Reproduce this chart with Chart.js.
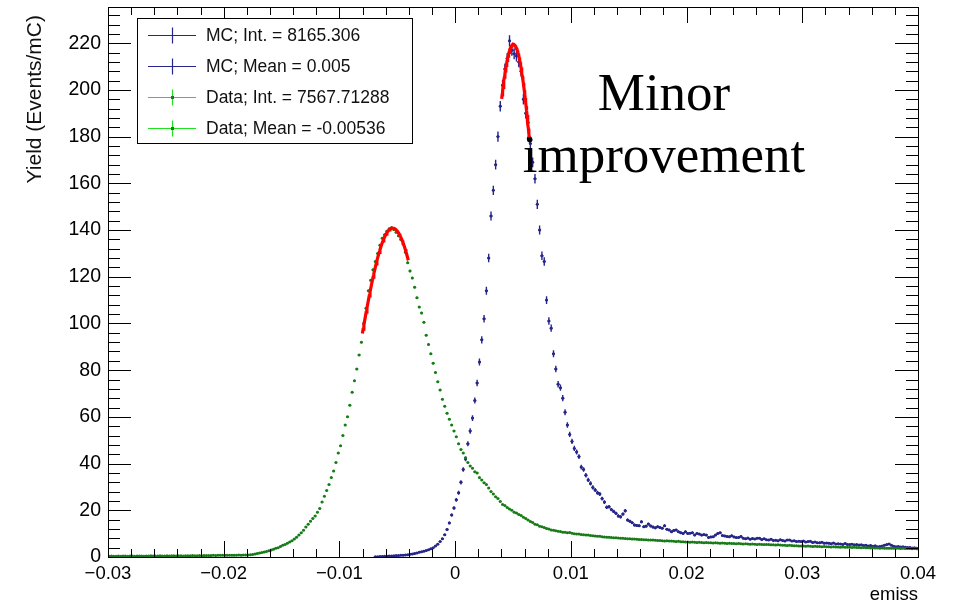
<!DOCTYPE html>
<html>
<head>
<meta charset="utf-8">
<script src="https://cdn.jsdelivr.net/npm/chart.js@4.4.0/dist/chart.umd.min.js"></script>
<style>
  html, body { margin: 0; padding: 0; background: #fff; }
</style>
</head>
<body>
<canvas id="c" width="953" height="604"></canvas>
<script>
// histogram binning: 350 bins of 0.0002 from -0.03 to 0.04
const binLow = -0.03;
const binWidth = 0.0002;

// MC yield per bin (Events/mC)
const mcYield = [
  0,0,0,0,0,0,0,0,0,0,
  0,0,0,0,0,0,0,0,0,0,
  0,0,0,0,0,0,0,0,0,0,
  0,0,0,0,0,0,0,0,0,0,
  0,0,0,0,0,0,0,0,0,0,
  0,0,0,0,0,0,0,0,0,0,
  0,0,0,0,0,0,0,0,0,0,
  0,0,0,0,0,0,0,0,0,0,
  0,0,0,0,0,0,0,0,0,0,
  0,0,0,0,0,0,0,0,0,0,
  0,0,0,0,0,0,0,0,0,0,
  0,0,0,0,0,0.1,0.1,0.2,0.2,0.3,
  0.3,0.4,0.4,0.5,0.6,0.6,0.7,0.8,0.9,1.0,
  1.2,1.3,1.5,1.7,2.0,2.2,2.5,2.8,3.1,3.5,
  4.0,4.7,5.5,6.6,7.8,9.5,11.8,14.6,18.0,21.0,
  24.5,27.5,32.0,37.5,42.0,48.5,54.0,59.5,67.0,74.5,
  83.5,93.0,102.0,114.0,128.0,146.0,157.0,168.0,180.0,193.0,
  202.0,209.0,213.5,221.0,217.0,215.5,214.5,212.0,208.0,196.0,
  190.0,186.0,177.0,169.0,162.0,151.0,140.0,129.0,126.5,110.0,
  101.0,98.0,87.0,80.5,74.0,72.5,68.0,62.0,56.5,52.5,
  49.5,46.5,45.0,43.0,38.5,37.5,35.0,33.0,31.5,29.8,
  28.7,27.5,27.0,25.0,23.5,21.3,21.5,20.3,19.5,18.7,
  17.6,17.2,18.4,19.8,15.8,15.3,14.7,13.7,13.5,13.4,
  15.1,13.0,13.2,14.1,13.3,12.8,12.5,13.0,12.6,12.3,
  13.4,11.9,11.6,10.8,11.4,11.6,10.8,10.4,10.1,10.8,
  10.1,10.2,10.4,9.4,10.1,9.8,9.4,9.6,9.4,8.4,
  8.6,8.7,9.4,10.1,10.4,9.2,9.0,8.8,8.7,9.1,
  8.6,8.3,8.4,8.8,8.0,7.8,8.1,7.6,7.9,7.7,
  8.0,8.0,7.5,7.8,7.4,7.3,7.6,7.1,7.2,7.0,
  7.4,7.1,6.9,7.3,7.3,6.8,7.0,6.6,6.7,6.6,
  6.9,6.4,6.6,6.7,6.2,6.4,6.1,6.1,6.3,5.9,
  6.0,5.9,5.7,6.0,5.6,5.7,5.6,5.4,5.8,5.3,
  5.4,5.5,5.2,5.3,5.1,5.2,4.9,5.0,4.7,4.9,
  4.6,4.8,4.4,4.5,4.7,5.0,5.3,5.6,5.0,4.6,
  4.4,4.5,4.3,4.4,4.2,4.1,4.1,3.9,4.0,3.7
];

// Data yield per bin (Events/mC)
const dataYield = [
  0.3,0.4,0.3,0.3,0.4,0.3,0.4,0.4,0.3,0.4,
  0.4,0.3,0.4,0.4,0.4,0.3,0.4,0.4,0.5,0.4,
  0.4,0.4,0.5,0.4,0.4,0.5,0.4,0.5,0.5,0.4,
  0.5,0.5,0.4,0.5,0.5,0.5,0.6,0.5,0.5,0.6,
  0.5,0.6,0.6,0.6,0.6,0.7,0.6,0.7,0.7,0.7,
  0.7,0.8,0.7,0.8,0.8,0.8,0.9,0.8,0.9,0.9,
  0.9,1.0,1.1,1.3,1.5,1.7,1.9,2.1,2.4,2.7,
  3.0,3.3,3.7,4.0,4.5,5.0,5.4,5.9,6.4,7.0,
  7.7,8.5,9.4,10.4,11.5,12.8,14.0,15.3,16.5,17.6,
  19.2,20.8,23.5,26.0,28.5,31.0,34.0,36.8,40.5,44.5,
  47.6,52.0,56.5,60.0,65.0,70.5,75.5,80.5,86.5,92.0,
  100.0,106.5,114.0,118.5,123.0,126.5,130.0,133.5,136.5,138.0,
  139.5,140.5,141.0,140.2,139.0,137.5,136.0,134.0,130.5,126.0,
  122.5,119.5,115.5,111.0,107.0,104.5,100.5,95.0,91.0,87.0,
  83.0,79.0,75.0,71.5,67.5,64.5,61.5,59.0,56.5,54.0,
  51.5,48.5,46.0,44.5,42.5,40.5,39.0,38.0,36.5,36.0,
  34.0,33.0,31.8,31.0,29.5,28.0,27.0,25.8,25.0,23.8,
  22.5,22.0,21.2,20.5,20.0,19.2,18.8,18.2,17.8,17.0,
  16.5,15.8,15.2,14.8,14.0,13.8,13.2,13.0,12.6,12.2,
  12.0,11.6,11.5,11.2,11.0,10.9,10.6,10.6,10.4,10.5,
  10.2,10.0,9.9,9.8,9.6,9.5,9.4,9.4,9.2,9.1,
  9.0,8.9,8.9,8.7,8.6,8.5,8.5,8.3,8.2,8.2,
  8.1,8.0,8.0,7.9,7.8,7.8,7.7,7.7,7.6,7.5,
  7.5,7.4,7.4,7.3,7.3,7.3,7.2,7.1,7.1,7.0,
  6.9,7.0,6.8,6.8,6.7,6.6,6.7,6.5,6.5,6.4,
  6.4,6.3,6.4,6.3,6.2,6.3,6.2,6.1,6.2,6.1,
  6.1,6.0,6.1,6.0,5.9,6.0,5.9,5.8,5.9,5.8,
  5.8,5.7,5.8,5.7,5.6,5.7,5.6,5.5,5.6,5.5,
  5.4,5.5,5.4,5.3,5.4,5.3,5.2,5.2,5.1,5.2,
  5.1,5.0,5.0,4.9,5.0,4.9,4.8,4.8,4.7,4.7,
  4.7,4.6,4.7,4.6,4.5,4.6,4.5,4.5,4.4,4.5,
  4.4,4.4,4.3,4.4,4.3,4.3,4.2,4.3,4.2,4.2,
  4.2,4.1,4.2,4.1,4.1,4.0,4.1,4.0,4.0,3.9,
  4.0,3.9,3.9,3.8,3.9,3.8,3.8,3.8,3.7,3.8,
  3.7,3.7,3.6,3.7,3.6,3.6,3.6,3.5,3.6,3.5
];

// gaussian fits around the peaks: [amplitude, mean, sigma, range from, range to]
const mcFit = [219.5, 0.00504, 0.00215, 0.00402, 0.00641];
const dataFit = [140.8, -0.0054, 0.00298, -0.00802, -0.00405];

const xTicks = [-0.03, -0.02, -0.01, 0, 0.01, 0.02, 0.03, 0.04];
const yTicks = [0, 20, 40, 60, 80, 100, 120, 140, 160, 180, 200, 220];
const legendLabels = ['MC; Int. = 8165.306', 'MC; Mean = 0.005', 'Data; Int. = 7567.71288', 'Data; Mean = -0.00536'];
const yTitle = 'Yield (Events/mC)';
const noteLines = ['Minor', 'improvement'];

const MC_COLOR = '#26268a';
const DATA_BAR = '#22e022';
const DATA_DOT = '#1a7a1a';

function toPoints(arr) {
  const pts = [];
  arr.forEach(function (v, i) {
    if (v > 0) pts.push({ x: binLow + binWidth * (i + 0.5), y: v });
  });
  return pts;
}

function fitPoints(f) {
  const pts = [];
  for (let k = 0; k <= 60; k++) {
    const x = f[3] + (f[4] - f[3]) * k / 60;
    const z = (x - f[1]) / f[2];
    pts.push({ x: x, y: f[0] * Math.exp(-0.5 * z * z) });
  }
  return pts;
}

const mcFitPts = fitPoints(mcFit);
const dataFitPts = fitPoints(dataFit);

Chart.defaults.font.family = '"Liberation Sans", Arial, sans-serif';
Chart.defaults.color = '#000';

// error bars (drawn under the markers)
const errorBars = {
  id: 'errorBars',
  beforeDatasetsDraw(chart) {
    const { ctx, chartArea: a, scales: { x, y } } = chart;
    ctx.save();
    ctx.beginPath();
    ctx.rect(a.left, a.top, a.right - a.left, a.bottom - a.top);
    ctx.clip();
    chart.data.datasets.forEach(function (ds) {
      if (!ds.errScale) return;
      ctx.strokeStyle = ds.barColor;
      ctx.lineWidth = ds.barWidth;
      ctx.beginPath();
      ds.data.forEach(function (p) {
        const e = ds.errScale * Math.sqrt(p.y);
        const px = x.getPixelForValue(p.x);
        const x0 = x.getPixelForValue(p.x - binWidth / 2);
        const x1 = x.getPixelForValue(p.x + binWidth / 2);
        const py = y.getPixelForValue(p.y);
        ctx.moveTo(px, y.getPixelForValue(p.y - e));
        ctx.lineTo(px, y.getPixelForValue(p.y + e));
        ctx.moveTo(x0 - 0.3, py);
        ctx.lineTo(x1 + 0.3, py);
      });
      ctx.stroke();
    });
    ctx.restore();
  }
};

// ROOT style frame with ticks on all four sides
const frameTicks = {
  id: 'frameTicks',
  afterDatasetsDraw(chart) {
    const { ctx, chartArea: a, scales: { x, y } } = chart;
    ctx.save();
    ctx.strokeStyle = '#000';
    ctx.lineWidth = 1;
    ctx.strokeRect(Math.round(a.left) + 0.5, Math.round(a.top) + 0.5,
      Math.round(a.right - a.left), Math.round(a.bottom - a.top));
    ctx.beginPath();
    for (let k = 0; k * 4 <= y.max; k++) {
      const p = Math.round(y.getPixelForValue(k * 4)) + 0.5;
      const len = k % 5 === 0 ? 23 : 12;
      ctx.moveTo(a.left, p); ctx.lineTo(a.left + len, p);
      ctx.moveTo(a.right, p); ctx.lineTo(a.right - len, p);
    }
    for (let k = 0; k <= 35; k++) {
      const p = Math.round(x.getPixelForValue(-0.03 + k * 0.002)) + 0.5;
      const len = k % 5 === 0 ? 16 : 8;
      ctx.moveTo(p, a.bottom); ctx.lineTo(p, a.bottom - len);
      ctx.moveTo(p, a.top); ctx.lineTo(p, a.top + len);
    }
    ctx.stroke();
    ctx.restore();
  }
};

// legend box, y title and text annotation
const overlay = {
  id: 'overlay',
  afterDraw(chart) {
    const { ctx, scales: { x, y } } = chart;
    ctx.save();
    const bx = 137, by = 18, bw = 275, bh = 125;
    ctx.fillStyle = '#fff';
    ctx.fillRect(bx, by, bw, bh);
    ctx.strokeStyle = '#000';
    ctx.lineWidth = 1;
    ctx.strokeRect(bx + 0.5, by + 0.5, bw, bh);
    const rows = [35, 66, 97, 128];
    const cols = [MC_COLOR, MC_COLOR, DATA_BAR, DATA_BAR];
    ctx.font = '17.5px "Liberation Sans", Arial, sans-serif';
    ctx.textBaseline = 'middle';
    ctx.textAlign = 'left';
    legendLabels.forEach(function (t, i) {
      const ry = rows[i] + 0.5;
      ctx.strokeStyle = cols[i];
      ctx.lineWidth = 1.2;
      ctx.beginPath();
      ctx.moveTo(148, ry); ctx.lineTo(196, ry);
      ctx.moveTo(172.5, ry - 8); ctx.lineTo(172.5, ry + 8);
      ctx.stroke();
      if (i > 1) {
        ctx.fillStyle = DATA_DOT;
        ctx.fillRect(171, ry - 1.5, 3, 3);
      }
      ctx.fillStyle = '#111';
      ctx.fillText(t, 206, rows[i] + 1);
    });

    // y axis title, right-aligned to the top like ROOT does
    ctx.save();
    ctx.translate(35, 15);
    ctx.rotate(-Math.PI / 2);
    ctx.font = '21px "Liberation Sans", Arial, sans-serif';
    ctx.textAlign = 'right';
    ctx.textBaseline = 'middle';
    ctx.fillStyle = '#111';
    ctx.fillText(yTitle, 0, 0);
    ctx.restore();

    ctx.font = '53px "Liberation Serif", "Times New Roman", serif';
    ctx.textAlign = 'center';
    ctx.textBaseline = 'alphabetic';
    ctx.fillStyle = '#000';
    const nx = x.getPixelForValue(0.01805);
    ctx.fillText(noteLines[0], nx, y.getPixelForValue(191.4));
    ctx.fillText(noteLines[1], nx, y.getPixelForValue(164.9));
    ctx.restore();
  }
};

new Chart(document.getElementById('c'), {
  type: 'scatter',
  data: {
    datasets: [
      { label: 'MC fit', data: mcFitPts, showLine: true, borderColor: '#ff0000', borderWidth: 3.2,
        pointRadius: 0, order: 0 },
      { label: 'Data fit', data: dataFitPts, showLine: true, borderColor: '#ff0000', borderWidth: 3.2,
        pointRadius: 0, order: 0 },
      { label: 'fit end', data: [mcFitPts[mcFitPts.length - 1]], pointRadius: 2.5,
        backgroundColor: '#000', borderWidth: 0, order: 0 },
      { label: 'MC', data: toPoints(mcYield), pointRadius: 1.5, backgroundColor: MC_COLOR,
        borderWidth: 0, order: 2, errScale: 0.16, barColor: MC_COLOR, barWidth: 1.4 },
      { label: 'Data', data: toPoints(dataYield), pointRadius: 1.5, backgroundColor: DATA_DOT,
        borderWidth: 0, order: 1, errScale: 0.05, barColor: DATA_BAR, barWidth: 1.3 }
    ]
  },
  options: {
    responsive: false,
    devicePixelRatio: 1,
    animation: false,
    layout: { padding: { top: 7, right: 35, bottom: 0, left: 0 } },
    plugins: { legend: { display: false }, tooltip: { enabled: false } },
    scales: {
      x: {
        type: 'linear', min: -0.03, max: 0.04,
        afterBuildTicks(s) { s.ticks = xTicks.map(v => ({ value: v })); },
        afterFit(s) { s.height = 47; s.paddingLeft = 0; s.paddingRight = 0; },
        grid: { display: false, drawTicks: false },
        border: { display: false },
        ticks: {
          font: { size: 18.5 }, padding: 6, maxRotation: 0, autoSkip: false,
          callback: v => Math.abs(v) < 1e-9 ? '0' : v.toFixed(2).replace('-', '\u2212')
        },
        title: { display: true, text: 'emiss', align: 'end', font: { size: 18.5 }, padding: { top: 0, bottom: -2 } }
      },
      y: {
        type: 'linear', min: 0, max: 235.5,
        afterBuildTicks(s) { s.ticks = yTicks.map(v => ({ value: v })); },
        afterFit(s) { s.width = 108; s.paddingTop = 0; s.paddingBottom = 0; },
        grid: { display: false, drawTicks: false },
        border: { display: false },
        ticks: { font: { size: 19.5 }, padding: 7 }
      }
    }
  },
  plugins: [errorBars, frameTicks, overlay]
});
</script>
</body>
</html>
